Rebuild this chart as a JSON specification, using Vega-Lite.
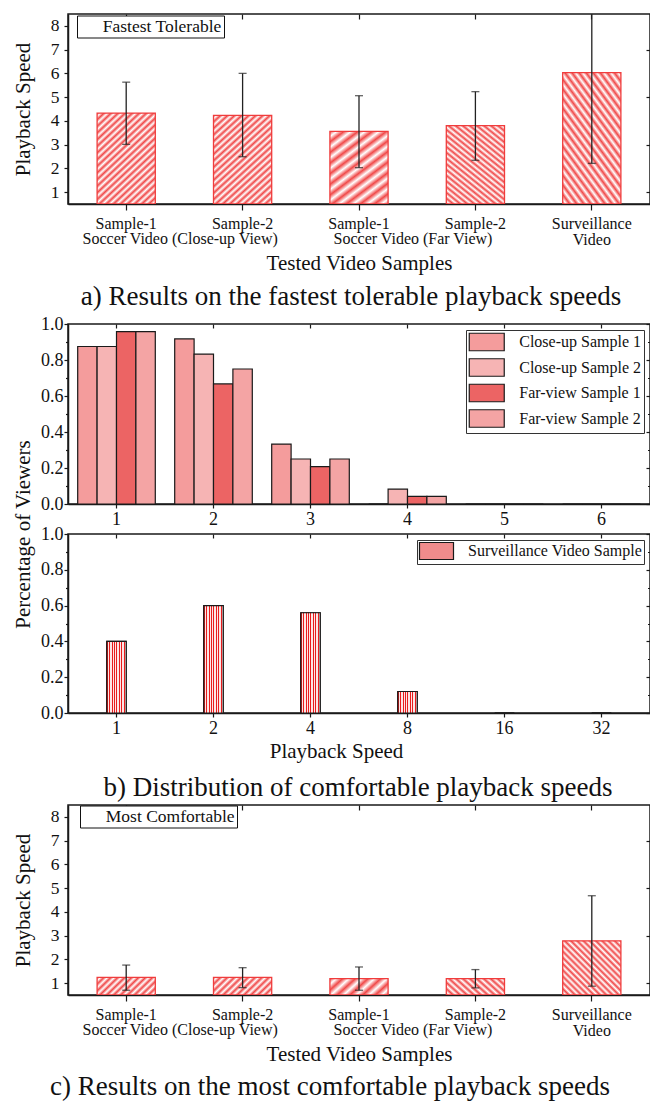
{
  "$schema": "https://vega.github.io/schema/vega-lite/v6.json",
  "background": "white",
  "padding": {"left": 11, "top": 12, "right": 0, "bottom": 0},
  "bounds": "flush",
  "spacing": 30,
  "config": {
    "font": "Liberation Serif",
    "view": {"stroke": "#1a1a1a", "strokeWidth": 1.5},
    "axis": {"domainColor": "#1a1a1a", "domainWidth": 1.5, "tickColor": "#1a1a1a", "tickWidth": 1.2, "labelColor": "#111111", "titleColor": "#111111", "labelFont": "Liberation Serif", "titleFont": "Liberation Serif", "titleFontWeight": "normal", "grid": false, "labelOverlap": false},
    "legend": {"labelFont": "Liberation Serif", "labelColor": "#111111", "labelLimit": 400},
    "title": {"font": "Liberation Serif", "fontWeight": "normal", "color": "#111111"}
  },
  "resolve": {"scale": {"x": "independent", "y": "independent", "fill": "independent", "shape": "independent"}},
  "vconcat": [
    {
      "width": 582,
      "height": 190,
      "title": {"text": "a) Results on the fastest tolerable playback speeds", "orient": "bottom", "fontSize": 27, "offset": 11, "dx": -8},
      "resolve": {"axis": {"x": "independent", "y": "independent"}},
      "layer": [
        {
          "data": {"values": [
            {"sample": "Close-up Sample-1", "mean": 4.33, "lo": 3.01, "hi": 5.63},
            {"sample": "Close-up Sample-2", "mean": 4.23, "lo": 2.49, "hi": 6.0},
            {"sample": "Far Sample-1", "mean": 3.56, "lo": 2.03, "hi": 5.06},
            {"sample": "Far Sample-2", "mean": 3.8, "lo": 2.34, "hi": 5.23},
            {"sample": "Surveillance Video", "mean": 6.03, "lo": 2.21, "hi": 9.85}
          ]},
          "encoding": {
            "x": {"field": "sample", "type": "nominal", "title": "Tested Video Samples",
              "scale": {"domain": ["Close-up Sample-1", "Close-up Sample-2", "Far Sample-1", "Far Sample-2", "Surveillance Video"], "paddingInner": 0.5, "paddingOuter": 0.25},
              "axis": {"titleFontSize": 21, "titlePadding": 5, "labelFontSize": 16, "labelLineHeight": 16, "labelAngle": 0, "labelPadding": 5, "tickSize": 6,
                "labelExpr": "datum.value == 'Surveillance Video' ? ['Surveillance', 'Video'] : split(datum.value, ' ')[1]"}}
          },
          "layer": [
            {
              "transform": [{"filter": "datum.sample == 'Close-up Sample-1' || datum.sample == 'Close-up Sample-2'"}],
              "mark": {"type": "bar", "clip": true, "stroke": "#f03c3c", "strokeWidth": 1.3,
                "fill": {"gradient": "linear", "x1": 0, "y1": 0, "x2": 0.71, "y2": 1.18, "stops": [
                  {"offset": 0, "color": "#f04848"}, {"offset": 0.0227, "color": "#ffffff"}, {"offset": 0.0455, "color": "#f04848"}, {"offset": 0.0682, "color": "#ffffff"}, {"offset": 0.0909, "color": "#f04848"}, {"offset": 0.1136, "color": "#ffffff"}, {"offset": 0.1364, "color": "#f04848"}, {"offset": 0.1591, "color": "#ffffff"}, {"offset": 0.1818, "color": "#f04848"}, {"offset": 0.2045, "color": "#ffffff"}, {"offset": 0.2273, "color": "#f04848"}, {"offset": 0.25, "color": "#ffffff"}, {"offset": 0.2727, "color": "#f04848"}, {"offset": 0.2955, "color": "#ffffff"}, {"offset": 0.3182, "color": "#f04848"}, {"offset": 0.3409, "color": "#ffffff"}, {"offset": 0.3636, "color": "#f04848"}, {"offset": 0.3864, "color": "#ffffff"}, {"offset": 0.4091, "color": "#f04848"}, {"offset": 0.4318, "color": "#ffffff"}, {"offset": 0.4545, "color": "#f04848"}, {"offset": 0.4773, "color": "#ffffff"}, {"offset": 0.5, "color": "#f04848"}, {"offset": 0.5227, "color": "#ffffff"}, {"offset": 0.5455, "color": "#f04848"}, {"offset": 0.5682, "color": "#ffffff"}, {"offset": 0.5909, "color": "#f04848"}, {"offset": 0.6136, "color": "#ffffff"}, {"offset": 0.6364, "color": "#f04848"}, {"offset": 0.6591, "color": "#ffffff"}, {"offset": 0.6818, "color": "#f04848"}, {"offset": 0.7045, "color": "#ffffff"}, {"offset": 0.7273, "color": "#f04848"}, {"offset": 0.75, "color": "#ffffff"}, {"offset": 0.7727, "color": "#f04848"}, {"offset": 0.7955, "color": "#ffffff"}, {"offset": 0.8182, "color": "#f04848"}, {"offset": 0.8409, "color": "#ffffff"}, {"offset": 0.8636, "color": "#f04848"}, {"offset": 0.8864, "color": "#ffffff"}, {"offset": 0.9091, "color": "#f04848"}, {"offset": 0.9318, "color": "#ffffff"}, {"offset": 0.9545, "color": "#f04848"}, {"offset": 0.9773, "color": "#ffffff"}, {"offset": 1, "color": "#f04848"}
                ]}},
              "encoding": {
                "y": {"field": "mean", "type": "quantitative", "title": null,
                  "scale": {"domain": [0.5, 8.5], "nice": false, "zero": false},
                  "axis": {"orient": "right", "labels": false, "domain": false, "title": null,
                    "values": [1, 1.5, 2, 2.5, 3, 3.5, 4, 4.5, 5, 5.5, 6, 6.5, 7, 7.5, 8],
                    "tickSize": {"condition": {"test": "datum.value % 1 !== 0", "value": -2.5}, "value": -4}}},
                "y2": {"datum": 0.5}
              }
            },
            {
              "transform": [{"filter": "datum.sample == 'Far Sample-1'"}],
              "mark": {"type": "bar", "clip": true, "stroke": "#f03c3c", "strokeWidth": 1.3,
                "fill": {"gradient": "linear", "x1": 0, "y1": 0, "x2": 0.71, "y2": 1.18, "stops": [
                  {"offset": 0, "color": "#f04848"}, {"offset": 0.0455, "color": "#ffffff"}, {"offset": 0.0909, "color": "#f04848"}, {"offset": 0.1364, "color": "#ffffff"}, {"offset": 0.1818, "color": "#f04848"}, {"offset": 0.2273, "color": "#ffffff"}, {"offset": 0.2727, "color": "#f04848"}, {"offset": 0.3182, "color": "#ffffff"}, {"offset": 0.3636, "color": "#f04848"}, {"offset": 0.4091, "color": "#ffffff"}, {"offset": 0.4545, "color": "#f04848"}, {"offset": 0.5, "color": "#ffffff"}, {"offset": 0.5455, "color": "#f04848"}, {"offset": 0.5909, "color": "#ffffff"}, {"offset": 0.6364, "color": "#f04848"}, {"offset": 0.6818, "color": "#ffffff"}, {"offset": 0.7273, "color": "#f04848"}, {"offset": 0.7727, "color": "#ffffff"}, {"offset": 0.8182, "color": "#f04848"}, {"offset": 0.8636, "color": "#ffffff"}, {"offset": 0.9091, "color": "#f04848"}, {"offset": 0.9545, "color": "#ffffff"}, {"offset": 1, "color": "#f04848"}
                ]}},
              "encoding": {
                "y": {"field": "mean", "type": "quantitative", "title": null},
                "y2": {"datum": 0.5}
              }
            },
            {
              "transform": [{"filter": "datum.sample == 'Far Sample-2' || datum.sample == 'Surveillance Video'"}],
              "mark": {"type": "bar", "clip": true, "stroke": "#f03c3c", "strokeWidth": 1.3,
                "fill": {"gradient": "linear", "x1": 0, "y1": 1, "x2": 0.71, "y2": -0.18, "stops": [
                  {"offset": 0, "color": "#f04848"}, {"offset": 0.0227, "color": "#ffffff"}, {"offset": 0.0455, "color": "#f04848"}, {"offset": 0.0682, "color": "#ffffff"}, {"offset": 0.0909, "color": "#f04848"}, {"offset": 0.1136, "color": "#ffffff"}, {"offset": 0.1364, "color": "#f04848"}, {"offset": 0.1591, "color": "#ffffff"}, {"offset": 0.1818, "color": "#f04848"}, {"offset": 0.2045, "color": "#ffffff"}, {"offset": 0.2273, "color": "#f04848"}, {"offset": 0.25, "color": "#ffffff"}, {"offset": 0.2727, "color": "#f04848"}, {"offset": 0.2955, "color": "#ffffff"}, {"offset": 0.3182, "color": "#f04848"}, {"offset": 0.3409, "color": "#ffffff"}, {"offset": 0.3636, "color": "#f04848"}, {"offset": 0.3864, "color": "#ffffff"}, {"offset": 0.4091, "color": "#f04848"}, {"offset": 0.4318, "color": "#ffffff"}, {"offset": 0.4545, "color": "#f04848"}, {"offset": 0.4773, "color": "#ffffff"}, {"offset": 0.5, "color": "#f04848"}, {"offset": 0.5227, "color": "#ffffff"}, {"offset": 0.5455, "color": "#f04848"}, {"offset": 0.5682, "color": "#ffffff"}, {"offset": 0.5909, "color": "#f04848"}, {"offset": 0.6136, "color": "#ffffff"}, {"offset": 0.6364, "color": "#f04848"}, {"offset": 0.6591, "color": "#ffffff"}, {"offset": 0.6818, "color": "#f04848"}, {"offset": 0.7045, "color": "#ffffff"}, {"offset": 0.7273, "color": "#f04848"}, {"offset": 0.75, "color": "#ffffff"}, {"offset": 0.7727, "color": "#f04848"}, {"offset": 0.7955, "color": "#ffffff"}, {"offset": 0.8182, "color": "#f04848"}, {"offset": 0.8409, "color": "#ffffff"}, {"offset": 0.8636, "color": "#f04848"}, {"offset": 0.8864, "color": "#ffffff"}, {"offset": 0.9091, "color": "#f04848"}, {"offset": 0.9318, "color": "#ffffff"}, {"offset": 0.9545, "color": "#f04848"}, {"offset": 0.9773, "color": "#ffffff"}, {"offset": 1, "color": "#f04848"}
                ]}},
              "encoding": {
                "y": {"field": "mean", "type": "quantitative", "title": null},
                "y2": {"datum": 0.5}
              }
            },
            {
              "mark": {"type": "rule", "clip": true, "color": "#222222", "strokeWidth": 1.3},
              "encoding": {
                "y": {"field": "lo", "type": "quantitative", "title": null},
                "y2": {"field": "hi"}
              }
            },
            {
              "mark": {"type": "tick", "clip": true, "color": "#222222", "size": 8, "thickness": 1.3},
              "encoding": {
                "y": {"field": "lo", "type": "quantitative", "title": null}
              }
            },
            {
              "mark": {"type": "tick", "clip": true, "color": "#222222", "size": 8, "thickness": 1.3},
              "encoding": {
                "y": {"field": "hi", "type": "quantitative", "title": null}
              }
            }
          ]
        },
        {
          "data": {"values": [
            {"sample": "Close-up Sample-1", "group": "Soccer Video (Close-up View)"},
            {"sample": "Far Sample-1", "group": "Soccer Video (Far View)"}
          ]},
          "mark": {"type": "text", "dx": 54, "dy": 27, "baseline": "top", "fontSize": 16, "color": "#111111"},
          "encoding": {
            "x": {"field": "sample", "type": "nominal", "title": null,
              "axis": {"orient": "top", "labels": false, "domain": false, "tickSize": -5, "title": null}},
            "y": {"datum": 0.5, "type": "quantitative", "title": "Playback Speed",
              "axis": {"orient": "left", "title": "Playback Speed", "titleFontSize": 21, "titleX": -35, "labelFontSize": 17.5, "labelPadding": 5, "labelOverlap": false, "format": "d",
                "values": [1, 1.5, 2, 2.5, 3, 3.5, 4, 4.5, 5, 5.5, 6, 6.5, 7, 7.5, 8],
                "labelExpr": "indexof([1, 2, 3, 4, 5, 6, 7, 8], datum.value) >= 0 ? datum.label : ''",
                "tickSize": {"condition": {"test": "datum.value % 1 !== 0", "value": 2.5}, "value": 4}}},
            "text": {"field": "group"}
          }
        },
        {
          "data": {"values": [{"box": "Fastest Tolerable"}]},
          "mark": {"type": "point", "opacity": 0},
          "encoding": {
            "shape": {"field": "box", "type": "nominal",
              "legend": {"title": null, "orient": "none", "legendX": 9, "legendY": 1.5, "labelFontSize": 17.5, "symbolOpacity": 0, "symbolSize": 100, "symbolStrokeWidth": 0, "labelOffset": 6, "padding": 2.3, "strokeColor": "#111111", "fillColor": "white"}}
          }
        }
      ]
    },
    {
      "width": 582,
      "height": 60,
      "data": {"values": [{}]},
      "mark": {"type": "point", "opacity": 0},
      "view": {"stroke": null}
    },
    {
      "width": 582,
      "height": 180,
      "data": {"values": [
        {"speed": 1, "series": "Close-up Sample 1", "pct": 0.875},
        {"speed": 1, "series": "Close-up Sample 2", "pct": 0.875},
        {"speed": 1, "series": "Far-view Sample 1", "pct": 0.958},
        {"speed": 1, "series": "Far-view Sample 2", "pct": 0.958},
        {"speed": 2, "series": "Close-up Sample 1", "pct": 0.917},
        {"speed": 2, "series": "Close-up Sample 2", "pct": 0.833},
        {"speed": 2, "series": "Far-view Sample 1", "pct": 0.667},
        {"speed": 2, "series": "Far-view Sample 2", "pct": 0.75},
        {"speed": 3, "series": "Close-up Sample 1", "pct": 0.333},
        {"speed": 3, "series": "Close-up Sample 2", "pct": 0.25},
        {"speed": 3, "series": "Far-view Sample 1", "pct": 0.208},
        {"speed": 3, "series": "Far-view Sample 2", "pct": 0.25},
        {"speed": 4, "series": "Close-up Sample 1", "pct": 0},
        {"speed": 4, "series": "Close-up Sample 2", "pct": 0.083},
        {"speed": 4, "series": "Far-view Sample 1", "pct": 0.042},
        {"speed": 4, "series": "Far-view Sample 2", "pct": 0.042},
        {"speed": 5, "series": "Close-up Sample 1", "pct": 0},
        {"speed": 5, "series": "Close-up Sample 2", "pct": 0},
        {"speed": 5, "series": "Far-view Sample 1", "pct": 0},
        {"speed": 5, "series": "Far-view Sample 2", "pct": 0},
        {"speed": 6, "series": "Close-up Sample 1", "pct": 0},
        {"speed": 6, "series": "Close-up Sample 2", "pct": 0},
        {"speed": 6, "series": "Far-view Sample 1", "pct": 0},
        {"speed": 6, "series": "Far-view Sample 2", "pct": 0}
      ]},
      "resolve": {"axis": {"x": "independent", "y": "independent"}},
      "layer": [
        {
          "mark": {"type": "bar", "stroke": "#1a1a1a", "strokeWidth": 1.2},
          "encoding": {
            "x": {"field": "speed", "type": "ordinal", "title": null,
              "scale": {"paddingInner": 0.2, "paddingOuter": 0.1},
              "axis": {"labelAngle": 0, "labelFontSize": 18, "tickSize": 4, "labelPadding": 2}},
            "xOffset": {"field": "series", "type": "nominal", "sort": ["Close-up Sample 1", "Close-up Sample 2", "Far-view Sample 1", "Far-view Sample 2"], "scale": {"paddingInner": 0, "paddingOuter": 0}},
            "y": {"field": "pct", "type": "quantitative", "title": null,
              "scale": {"domain": [0, 1], "nice": false},
              "axis": {"values": [0, 0.1, 0.2, 0.3, 0.4, 0.5, 0.6, 0.7, 0.8, 0.9, 1.0], "format": ".1f",
                "labelExpr": "round(datum.value * 10) % 2 == 0 ? datum.label : ''",
                "labelFontSize": 18, "labelPadding": 1,
                "tickSize": {"condition": {"test": "round(datum.value * 10) % 2 != 0", "value": 2.5}, "value": 4}}},
            "fill": {"field": "series", "type": "nominal",
              "scale": {"domain": ["Close-up Sample 1", "Close-up Sample 2", "Far-view Sample 1", "Far-view Sample 2"], "range": ["#f49c9c", "#f6b4b4", "#ec6464", "#f4a4a4"]},
              "legend": {"title": null, "orient": "top-right", "offset": 6, "labelFontSize": 16, "symbolType": "M-2,-1H2V1H-2Z", "symbolSize": 306, "symbolOffset": 8.75, "symbolStrokeColor": "#1a1a1a", "symbolStrokeWidth": 1.2, "rowPadding": 2.5, "padding": 2.5, "labelOffset": 23, "strokeColor": "#333333", "fillColor": "white"}}
          }
        },
        {
          "mark": {"type": "tick", "opacity": 0},
          "encoding": {
            "x": {"field": "speed", "type": "ordinal", "title": null,
              "axis": {"orient": "top", "labels": false, "domain": false, "tickSize": -4}},
            "y": {"field": "pct", "type": "quantitative", "title": null,
              "axis": {"orient": "right", "labels": false, "domain": false,
                "values": [0, 0.1, 0.2, 0.3, 0.4, 0.5, 0.6, 0.7, 0.8, 0.9, 1.0],
                "tickSize": {"condition": {"test": "round(datum.value * 10) % 2 != 0", "value": -2.5}, "value": -4}}}
          }
        }
      ]
    },
    {
      "width": 582,
      "height": 179,
      "title": {"text": "b) Distribution of comfortable playback speeds", "orient": "bottom", "fontSize": 27, "offset": 14, "dx": -1},
      "data": {"values": [
        {"speed": 1, "series": "Surveillance Video Sample", "pct": 0.4},
        {"speed": 2, "series": "Surveillance Video Sample", "pct": 0.6},
        {"speed": 4, "series": "Surveillance Video Sample", "pct": 0.56},
        {"speed": 8, "series": "Surveillance Video Sample", "pct": 0.12},
        {"speed": 16, "series": "Surveillance Video Sample", "pct": 0},
        {"speed": 32, "series": "Surveillance Video Sample", "pct": 0}
      ]},
      "resolve": {"axis": {"x": "independent", "y": "independent"}},
      "layer": [
        {
          "mark": {"type": "bar", "stroke": "#1a1a1a", "strokeWidth": 1.2, "width": {"band": 0.25}},
          "encoding": {
            "x": {"field": "speed", "type": "ordinal", "title": "Playback Speed",
              "scale": {"paddingInner": 0.2, "paddingOuter": 0.1},
              "axis": {"labelAngle": 0, "labelFontSize": 18, "tickSize": 4, "labelPadding": 2, "titleFontSize": 21, "titlePadding": 3, "titleX": 268}},
            "y": {"field": "pct", "type": "quantitative", "title": "Percentage of Viewers",
              "scale": {"domain": [0, 1], "nice": false},
              "axis": {"values": [0, 0.1, 0.2, 0.3, 0.4, 0.5, 0.6, 0.7, 0.8, 0.9, 1.0], "format": ".1f",
                "labelExpr": "round(datum.value * 10) % 2 == 0 ? datum.label : ''",
                "labelFontSize": 18, "labelPadding": 1, "titleFontSize": 21, "titleX": -35, "titleY": 0,
                "tickSize": {"condition": {"test": "round(datum.value * 10) % 2 != 0", "value": 2.5}, "value": 4}}},
            "fill": {"field": "series", "type": "nominal",
              "scale": {"domain": ["Surveillance Video Sample"], "range": ["#f08c8c"]},
              "legend": {"title": null, "orient": "top-right", "offset": 6, "labelFontSize": 16, "symbolType": "M-2,-1H2V1H-2Z", "symbolSize": 289, "symbolOffset": 8.5, "symbolStrokeColor": "#1a1a1a", "symbolStrokeWidth": 1.2, "padding": 1.5, "labelOffset": 22, "strokeColor": "#333333", "fillColor": "white"}}
          }
        },
        {
          "mark": {"type": "bar", "stroke": "#1a1a1a", "strokeWidth": 1.2, "width": {"band": 0.25},
            "fill": {"gradient": "linear", "x1": 0, "y1": 0, "x2": 1, "y2": 0, "stops": [
              {"offset": 0, "color": "#e81c1c"}, {"offset": 0.05, "color": "#e81c1c"}, {"offset": 0.05, "color": "#fde4e4"}, {"offset": 0.125, "color": "#fde4e4"},
              {"offset": 0.125, "color": "#e81c1c"}, {"offset": 0.175, "color": "#e81c1c"}, {"offset": 0.175, "color": "#fde4e4"}, {"offset": 0.25, "color": "#fde4e4"},
              {"offset": 0.25, "color": "#e81c1c"}, {"offset": 0.3, "color": "#e81c1c"}, {"offset": 0.3, "color": "#fde4e4"}, {"offset": 0.375, "color": "#fde4e4"},
              {"offset": 0.375, "color": "#e81c1c"}, {"offset": 0.425, "color": "#e81c1c"}, {"offset": 0.425, "color": "#fde4e4"}, {"offset": 0.5, "color": "#fde4e4"},
              {"offset": 0.5, "color": "#e81c1c"}, {"offset": 0.55, "color": "#e81c1c"}, {"offset": 0.55, "color": "#fde4e4"}, {"offset": 0.625, "color": "#fde4e4"},
              {"offset": 0.625, "color": "#e81c1c"}, {"offset": 0.675, "color": "#e81c1c"}, {"offset": 0.675, "color": "#fde4e4"}, {"offset": 0.75, "color": "#fde4e4"},
              {"offset": 0.75, "color": "#e81c1c"}, {"offset": 0.8, "color": "#e81c1c"}, {"offset": 0.8, "color": "#fde4e4"}, {"offset": 0.875, "color": "#fde4e4"},
              {"offset": 0.875, "color": "#e81c1c"}, {"offset": 0.925, "color": "#e81c1c"}, {"offset": 0.925, "color": "#fde4e4"}, {"offset": 1, "color": "#fde4e4"}
            ]}},
          "encoding": {
            "x": {"field": "speed", "type": "ordinal", "title": null,
              "axis": {"orient": "top", "labels": false, "domain": false, "tickSize": -4}},
            "y": {"field": "pct", "type": "quantitative", "title": null,
              "axis": {"orient": "right", "labels": false, "domain": false,
                "values": [0, 0.1, 0.2, 0.3, 0.4, 0.5, 0.6, 0.7, 0.8, 0.9, 1.0],
                "tickSize": {"condition": {"test": "round(datum.value * 10) % 2 != 0", "value": -2.5}, "value": -4}}}
          }
        }
      ]
    },
    {
      "width": 582,
      "height": 32,
      "data": {"values": [{}]},
      "mark": {"type": "point", "opacity": 0},
      "view": {"stroke": null}
    },
    {
      "width": 582,
      "height": 190,
      "title": {"text": "c) Results on the most comfortable playback speeds", "orient": "bottom", "fontSize": 27, "offset": 10, "dx": -29},
      "resolve": {"axis": {"x": "independent", "y": "independent"}},
      "layer": [
        {
          "data": {"values": [
            {"sample": "Close-up Sample-1", "mean": 1.24, "lo": 0.7, "hi": 1.76},
            {"sample": "Close-up Sample-2", "mean": 1.24, "lo": 0.81, "hi": 1.65},
            {"sample": "Far Sample-1", "mean": 1.19, "lo": 0.7, "hi": 1.68},
            {"sample": "Far Sample-2", "mean": 1.19, "lo": 0.8, "hi": 1.57},
            {"sample": "Surveillance Video", "mean": 2.78, "lo": 0.87, "hi": 4.68}
          ]},
          "encoding": {
            "x": {"field": "sample", "type": "nominal", "title": "Tested Video Samples",
              "scale": {"domain": ["Close-up Sample-1", "Close-up Sample-2", "Far Sample-1", "Far Sample-2", "Surveillance Video"], "paddingInner": 0.5, "paddingOuter": 0.25},
              "axis": {"titleFontSize": 21, "titlePadding": 5, "labelFontSize": 16, "labelLineHeight": 16, "labelAngle": 0, "labelPadding": 5, "tickSize": 6,
                "labelExpr": "datum.value == 'Surveillance Video' ? ['Surveillance', 'Video'] : split(datum.value, ' ')[1]"}}
          },
          "layer": [
            {
              "transform": [{"filter": "datum.sample == 'Close-up Sample-1' || datum.sample == 'Close-up Sample-2'"}],
              "mark": {"type": "bar", "clip": true, "stroke": "#f03c3c", "strokeWidth": 1.3,
                "fill": {"gradient": "linear", "x1": 0, "y1": 0, "x2": 1.195, "y2": 0.37, "stops": [
                  {"offset": 0, "color": "#f04848"}, {"offset": 0.0455, "color": "#ffffff"}, {"offset": 0.0909, "color": "#f04848"}, {"offset": 0.1364, "color": "#ffffff"}, {"offset": 0.1818, "color": "#f04848"}, {"offset": 0.2273, "color": "#ffffff"}, {"offset": 0.2727, "color": "#f04848"}, {"offset": 0.3182, "color": "#ffffff"}, {"offset": 0.3636, "color": "#f04848"}, {"offset": 0.4091, "color": "#ffffff"}, {"offset": 0.4545, "color": "#f04848"}, {"offset": 0.5, "color": "#ffffff"}, {"offset": 0.5455, "color": "#f04848"}, {"offset": 0.5909, "color": "#ffffff"}, {"offset": 0.6364, "color": "#f04848"}, {"offset": 0.6818, "color": "#ffffff"}, {"offset": 0.7273, "color": "#f04848"}, {"offset": 0.7727, "color": "#ffffff"}, {"offset": 0.8182, "color": "#f04848"}, {"offset": 0.8636, "color": "#ffffff"}, {"offset": 0.9091, "color": "#f04848"}, {"offset": 0.9545, "color": "#ffffff"}, {"offset": 1, "color": "#f04848"}
                ]}},
              "encoding": {
                "y": {"field": "mean", "type": "quantitative", "title": null,
                  "scale": {"domain": [0.5, 8.5], "nice": false, "zero": false},
                  "axis": {"orient": "right", "labels": false, "domain": false, "title": null,
                    "values": [1, 1.5, 2, 2.5, 3, 3.5, 4, 4.5, 5, 5.5, 6, 6.5, 7, 7.5, 8],
                    "tickSize": {"condition": {"test": "datum.value % 1 !== 0", "value": -2.5}, "value": -4}}},
                "y2": {"datum": 0.5}
              }
            },
            {
              "transform": [{"filter": "datum.sample == 'Far Sample-1'"}],
              "mark": {"type": "bar", "clip": true, "stroke": "#f03c3c", "strokeWidth": 1.3,
                "fill": {"gradient": "linear", "x1": 0, "y1": 0, "x2": 1.195, "y2": 0.37, "stops": [
                  {"offset": 0, "color": "#f04848"}, {"offset": 0.0833, "color": "#ffffff"}, {"offset": 0.1667, "color": "#f04848"}, {"offset": 0.25, "color": "#ffffff"}, {"offset": 0.3333, "color": "#f04848"}, {"offset": 0.4167, "color": "#ffffff"}, {"offset": 0.5, "color": "#f04848"}, {"offset": 0.5833, "color": "#ffffff"}, {"offset": 0.6667, "color": "#f04848"}, {"offset": 0.75, "color": "#ffffff"}, {"offset": 0.8333, "color": "#f04848"}, {"offset": 0.9167, "color": "#ffffff"}, {"offset": 1, "color": "#f04848"}
                ]}},
              "encoding": {
                "y": {"field": "mean", "type": "quantitative", "title": null},
                "y2": {"datum": 0.5}
              }
            },
            {
              "transform": [{"filter": "datum.sample == 'Far Sample-2'"}],
              "mark": {"type": "bar", "clip": true, "stroke": "#f03c3c", "strokeWidth": 1.3,
                "fill": {"gradient": "linear", "x1": 0, "y1": 1, "x2": 1.195, "y2": 0.63, "stops": [
                  {"offset": 0, "color": "#f04848"}, {"offset": 0.0455, "color": "#ffffff"}, {"offset": 0.0909, "color": "#f04848"}, {"offset": 0.1364, "color": "#ffffff"}, {"offset": 0.1818, "color": "#f04848"}, {"offset": 0.2273, "color": "#ffffff"}, {"offset": 0.2727, "color": "#f04848"}, {"offset": 0.3182, "color": "#ffffff"}, {"offset": 0.3636, "color": "#f04848"}, {"offset": 0.4091, "color": "#ffffff"}, {"offset": 0.4545, "color": "#f04848"}, {"offset": 0.5, "color": "#ffffff"}, {"offset": 0.5455, "color": "#f04848"}, {"offset": 0.5909, "color": "#ffffff"}, {"offset": 0.6364, "color": "#f04848"}, {"offset": 0.6818, "color": "#ffffff"}, {"offset": 0.7273, "color": "#f04848"}, {"offset": 0.7727, "color": "#ffffff"}, {"offset": 0.8182, "color": "#f04848"}, {"offset": 0.8636, "color": "#ffffff"}, {"offset": 0.9091, "color": "#f04848"}, {"offset": 0.9545, "color": "#ffffff"}, {"offset": 1, "color": "#f04848"}
                ]}},
              "encoding": {
                "y": {"field": "mean", "type": "quantitative", "title": null},
                "y2": {"datum": 0.5}
              }
            },
            {
              "transform": [{"filter": "datum.sample == 'Surveillance Video'"}],
              "mark": {"type": "bar", "clip": true, "stroke": "#f03c3c", "strokeWidth": 1.3,
                "fill": {"gradient": "linear", "x1": 0, "y1": 1, "x2": 1.035, "y2": 0.037, "stops": [
                  {"offset": 0, "color": "#f04848"}, {"offset": 0.0278, "color": "#ffffff"}, {"offset": 0.0556, "color": "#f04848"}, {"offset": 0.0833, "color": "#ffffff"}, {"offset": 0.1111, "color": "#f04848"}, {"offset": 0.1389, "color": "#ffffff"}, {"offset": 0.1667, "color": "#f04848"}, {"offset": 0.1944, "color": "#ffffff"}, {"offset": 0.2222, "color": "#f04848"}, {"offset": 0.25, "color": "#ffffff"}, {"offset": 0.2778, "color": "#f04848"}, {"offset": 0.3056, "color": "#ffffff"}, {"offset": 0.3333, "color": "#f04848"}, {"offset": 0.3611, "color": "#ffffff"}, {"offset": 0.3889, "color": "#f04848"}, {"offset": 0.4167, "color": "#ffffff"}, {"offset": 0.4444, "color": "#f04848"}, {"offset": 0.4722, "color": "#ffffff"}, {"offset": 0.5, "color": "#f04848"}, {"offset": 0.5278, "color": "#ffffff"}, {"offset": 0.5556, "color": "#f04848"}, {"offset": 0.5833, "color": "#ffffff"}, {"offset": 0.6111, "color": "#f04848"}, {"offset": 0.6389, "color": "#ffffff"}, {"offset": 0.6667, "color": "#f04848"}, {"offset": 0.6944, "color": "#ffffff"}, {"offset": 0.7222, "color": "#f04848"}, {"offset": 0.75, "color": "#ffffff"}, {"offset": 0.7778, "color": "#f04848"}, {"offset": 0.8056, "color": "#ffffff"}, {"offset": 0.8333, "color": "#f04848"}, {"offset": 0.8611, "color": "#ffffff"}, {"offset": 0.8889, "color": "#f04848"}, {"offset": 0.9167, "color": "#ffffff"}, {"offset": 0.9444, "color": "#f04848"}, {"offset": 0.9722, "color": "#ffffff"}, {"offset": 1, "color": "#f04848"}
                ]}},
              "encoding": {
                "y": {"field": "mean", "type": "quantitative", "title": null},
                "y2": {"datum": 0.5}
              }
            },
            {
              "mark": {"type": "rule", "clip": true, "color": "#222222", "strokeWidth": 1.3},
              "encoding": {
                "y": {"field": "lo", "type": "quantitative", "title": null},
                "y2": {"field": "hi"}
              }
            },
            {
              "mark": {"type": "tick", "clip": true, "color": "#222222", "size": 8, "thickness": 1.3},
              "encoding": {
                "y": {"field": "lo", "type": "quantitative", "title": null}
              }
            },
            {
              "mark": {"type": "tick", "clip": true, "color": "#222222", "size": 8, "thickness": 1.3},
              "encoding": {
                "y": {"field": "hi", "type": "quantitative", "title": null}
              }
            }
          ]
        },
        {
          "data": {"values": [
            {"sample": "Close-up Sample-1", "group": "Soccer Video (Close-up View)"},
            {"sample": "Far Sample-1", "group": "Soccer Video (Far View)"}
          ]},
          "mark": {"type": "text", "dx": 54, "dy": 27, "baseline": "top", "fontSize": 16, "color": "#111111"},
          "encoding": {
            "x": {"field": "sample", "type": "nominal", "title": null,
              "axis": {"orient": "top", "labels": false, "domain": false, "tickSize": -5, "title": null}},
            "y": {"datum": 0.5, "type": "quantitative", "title": "Playback Speed",
              "axis": {"orient": "left", "title": "Playback Speed", "titleFontSize": 21, "titleX": -35, "labelFontSize": 17.5, "labelPadding": 5, "labelOverlap": false, "format": "d",
                "values": [1, 1.5, 2, 2.5, 3, 3.5, 4, 4.5, 5, 5.5, 6, 6.5, 7, 7.5, 8],
                "labelExpr": "indexof([1, 2, 3, 4, 5, 6, 7, 8], datum.value) >= 0 ? datum.label : ''",
                "tickSize": {"condition": {"test": "datum.value % 1 !== 0", "value": 2.5}, "value": 4}}},
            "text": {"field": "group"}
          }
        },
        {
          "data": {"values": [{"box": "Most Comfortable"}]},
          "mark": {"type": "point", "opacity": 0},
          "encoding": {
            "shape": {"field": "box", "type": "nominal",
              "legend": {"title": null, "orient": "none", "legendX": 12, "legendY": 0.5, "labelFontSize": 17.5, "symbolOpacity": 0, "symbolSize": 100, "symbolStrokeWidth": 0, "labelOffset": 6, "padding": 2.3, "strokeColor": "#111111", "fillColor": "white"}}
          }
        }
      ]
    }
  ]
}
